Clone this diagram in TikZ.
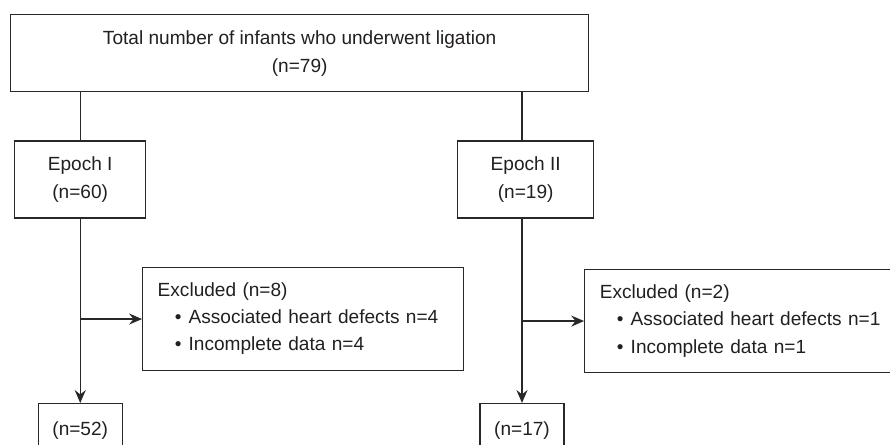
\documentclass[tikz,border=0pt]{standalone}
\usepackage{fontspec}
\setmainfont{Liberation Sans}
\usepackage{xcolor}
\usepackage{tikz}
\usetikzlibrary{arrows.meta, positioning}
\definecolor{flowline}{RGB}{40,40,40}
\definecolor{flowtext}{RGB}{35,31,32}
\tikzset{
    flowbox/.style={rectangle, draw=flowline, line width=0.75pt, align=center, text=flowtext, font=\fontsize{10.3}{15}\selectfont, inner sep=0pt},
    exclbox/.style={rectangle, draw=flowline, line width=0.75pt, align=left, text=flowtext, font=\fontsize{10.3}{14.6}\selectfont, inner xsep=8.1pt, inner ysep=0pt, minimum height=55.6pt},
    flowline/.style={draw=flowline, line width=0.75pt},
    flowarrow/.style={-{Stealth[length=7pt, width=6pt, inset=2.4pt]}, draw=flowline, line width=0.75pt}
}
\newcommand{\exclitem}[1]{\hspace*{9.2pt}\makebox[7.5pt][l]{\textbullet}#1}

\begin{document}
\begin{tikzpicture}[node distance=25.9pt and 2.2pt]

\useasboundingbox (0,0) rectangle (480.6pt,-239.8pt);

\node[flowbox, anchor=north west, minimum width=312.1pt, minimum height=41.6pt] (total) at (5.4pt,-7.6pt) {Total number of infants who underwent ligation\\(n=79)};

\node[flowbox, anchor=north west, minimum width=70.7pt, minimum height=41.6pt, below right=25.9pt and 2.2pt of total.south west] (epoch1) {Epoch I\\(n=60)};
\node[flowbox, anchor=north west, minimum width=73.4pt, minimum height=41.6pt, below right=25.9pt and 241.4pt of total.south west] (epoch2) {Epoch II\\(n=19)};

\node[exclbox, anchor=north west, text width=157.1pt, below right=25.9pt and 69.1pt of epoch1.south west] (excl1) {Excluded (n=8)\\\exclitem{Associated heart defects n=4}\\\exclitem{Incomplete data n=4}};
\node[exclbox, anchor=north west, text width=157.1pt, below right=27pt and 68.6pt of epoch2.south west] (excl2) {Excluded (n=2)\\\exclitem{Associated heart defects n=1}\\\exclitem{Incomplete data n=1}};

\node[flowbox, minimum width=45.4pt, minimum height=29.2pt, below=99.4pt of epoch1] (final1) {(n=52)};
\node[flowbox, minimum width=45.4pt, minimum height=29.2pt, below=99.4pt of epoch2, xshift=-2pt] (final2) {(n=17)};

\coordinate (split1) at (epoch1.south |- excl1.west);
\coordinate (split2) at (final2.north |- excl2.west);

\draw[flowline] (epoch1.north |- total.south) -- (epoch1);
\draw[flowline] (final2.north |- total.south) -- (final2.north |- epoch2.north);

\draw[flowarrow] (epoch1) -- (final1);
\draw[flowarrow] (final2.north |- epoch2.south) -- (final2);
\draw[flowarrow] (split1) -- (excl1);
\draw[flowarrow] (split2) -- (excl2);

\end{tikzpicture}
\end{document}
